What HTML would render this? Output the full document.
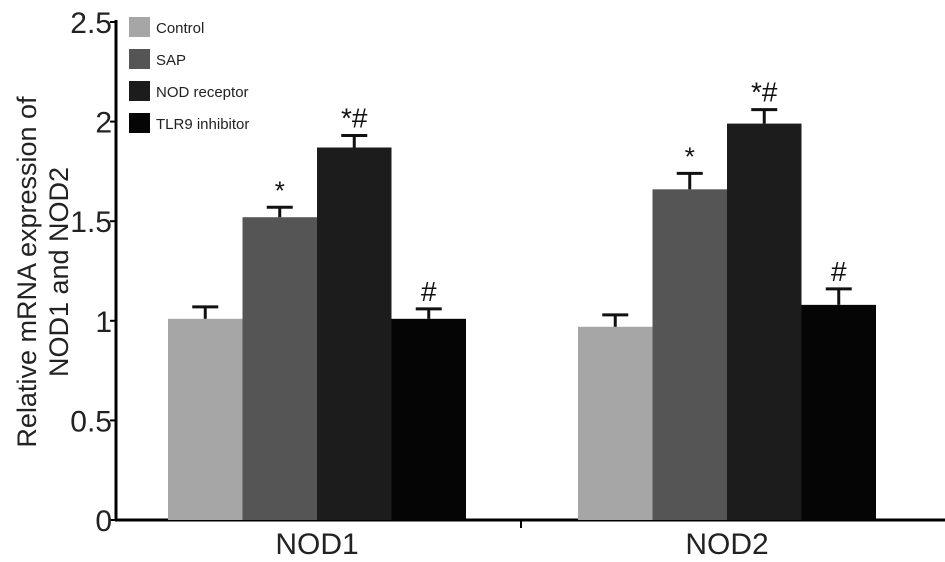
<!DOCTYPE html>
<html><head><meta charset="utf-8"><style>
body{margin:0;background:#fff;}
svg{display:block;font-family:"Liberation Sans",Arial,sans-serif;}
</style></head><body>
<svg id="chart" width="945" height="562" viewBox="0 0 945 562" xmlns="http://www.w3.org/2000/svg">
<g id="axes"></g><g id="bars"></g><g id="legend"></g>
</svg>
<script>
const categories = ["NOD1","NOD2"];
const seriesNames = ["Control","SAP","NOD receptor","TLR9 inhibitor"];
const controlVals = [1.01, 0.97];
const sapVals = [1.52, 1.66];
const nodVals = [1.87, 1.99];
const tlrVals = [1.01, 1.08];
const controlErr = [0.06, 0.06];
const sapErr = [0.05, 0.08];
const nodErr = [0.06, 0.07];
const tlrErr = [0.05, 0.08];
const sapMarks = ["*","*"];
const nodMarks = ["*#","*#"];
const tlrMarks = ["#","#"];
const controlMarks = ["",""];
const yTicks = [0,0.5,1,1.5,2,2.5];
const yTickLabels = ["0","0.5","1","1.5","2","2.5"];

const colors = ["#a6a6a6","#555555","#1c1c1c","#050505"];
const NS="http://www.w3.org/2000/svg";
const X0=116, Y0=520, YTOP=22, XEND=945;
const y = v => Y0 - v/2.5*(Y0-YTOP);
const groupStart = [168, 578];
const bw = 74.5;
function mk(tag, attrs, parent){const e=document.createElementNS(NS,tag);for(const k in attrs)e.setAttribute(k,attrs[k]);parent.appendChild(e);return e;}
const axes=document.getElementById('axes'), bars=document.getElementById('bars'), legend=document.getElementById('legend');

let yl=mk('line',{x1:X0,y1:YTOP-2,x2:X0,y2:Y0+1,stroke:'#000','stroke-width':3},axes);


let xl=mk('line',{x1:X0-1,y1:Y0,x2:XEND,y2:Y0,stroke:'#000','stroke-width':3},axes);


let mt=mk('line',{x1:521,y1:Y0,x2:521,y2:Y0+8,stroke:'#000','stroke-width':2},axes);


yTicks.forEach((t,i)=>{
  const tk=mk('line',{x1:X0-6,y1:y(t),x2:X0,y2:y(t),stroke:'#000','stroke-width':2},axes);
  
  
  const tx=mk('text',{x:X0-4,y:y(t)+11,'text-anchor':'end','font-size':30,fill:'#222'},axes);
  tx.textContent=yTickLabels[i];
  
  
});
const yt=mk('text',{transform:'translate(0,0)','font-size':27,fill:'#222','text-anchor':'middle'},axes);


yt.innerHTML='<tspan x="-272" y="36">Relative mRNA expression of</tspan><tspan x="-272" y="68">NOD1 and NOD2</tspan>';
yt.setAttribute('transform','rotate(-90)');

const vals=[controlVals,sapVals,nodVals,tlrVals];
const errs=[controlErr,sapErr,nodErr,tlrErr];
const marks=[controlMarks,sapMarks,nodMarks,tlrMarks];
categories.forEach((c,gi)=>{
  vals.forEach((sv,si)=>{
    const x=groupStart[gi]+si*bw;
    const r=mk('rect',{x:x,y:y(sv[gi]),width:bw,height:Y0-y(sv[gi]),fill:colors[si]},bars);
    
    
    const cx=x+bw/2, top=y(sv[gi]+errs[si][gi]);
    const e1=mk('line',{x1:cx,y1:y(sv[gi]),x2:cx,y2:top,stroke:'#111','stroke-width':3},bars);
    
    
    const e2=mk('line',{x1:cx-13,y1:top,x2:cx+13,y2:top,stroke:'#111','stroke-width':3},bars);
    
    
    if(marks[si][gi]){
      const m=mk('text',{x:cx,y:top-8,'text-anchor':'middle','font-size':marks[si][gi]==='*'?26:28,fill:'#111'},bars);
      m.textContent=marks[si][gi];
      
      
    }
  });
  const cl=mk('text',{x:groupStart[gi]+2*bw,y:554,'text-anchor':'middle','font-size':30,fill:'#222'},axes);
  cl.textContent=c;
  
  
});
seriesNames.forEach((n,i)=>{
  const ly=17+i*32;
  const s=mk('rect',{x:129,y:ly,width:21,height:20,fill:colors[i]},legend);
  
  
  const t=mk('text',{x:156,y:ly+16,'font-size':15,fill:'#222'},legend);
  t.textContent=n;
  
  
});
</script>
</body></html>
